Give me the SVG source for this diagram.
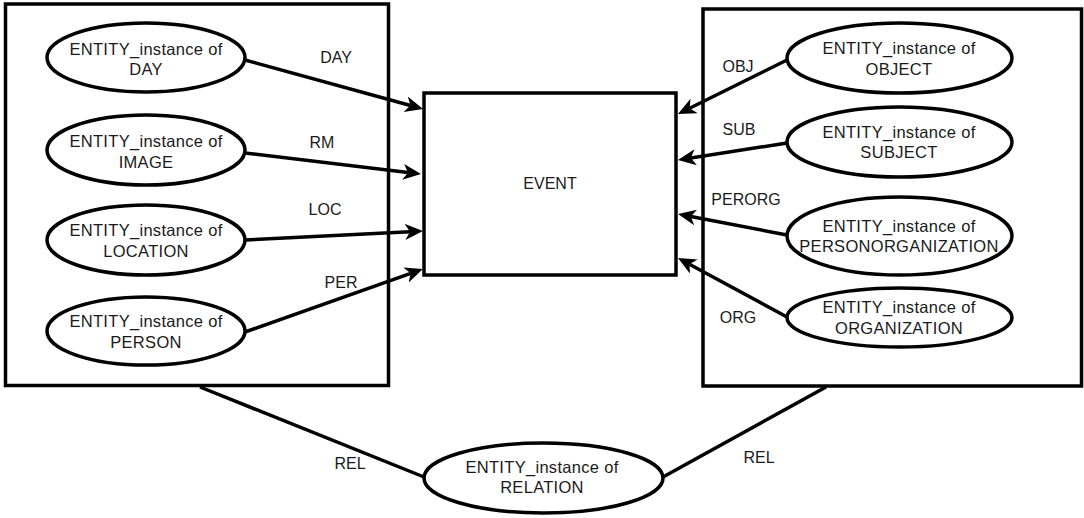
<svg xmlns="http://www.w3.org/2000/svg" width="1084" height="518" viewBox="0 0 1084 518">
  <style>
    .box { fill: none; stroke: #000; stroke-width: 3.5; }
    .event { fill: #fff; stroke: #000; stroke-width: 3.5; }
    .ent { fill: #fff; stroke: #000; stroke-width: 3.5; }
    .edge { fill: none; stroke: #000; stroke-width: 3.5; }
    .arrow { marker-end: url(#head); }
    text { font-family: "Liberation Sans", Arial, sans-serif; fill: #1a1a1a; text-anchor: middle; }
    .nt { font-size: 16.5px; letter-spacing: 0.3px; }
    .lbl { font-size: 16px; }
  </style>
  <defs>
    <marker id="head" markerUnits="userSpaceOnUse" markerWidth="20" markerHeight="18" refX="5" refY="8" orient="auto">
      <path d="M0,0 L18,8 L0,16 L5,8 Z" fill="#000"/>
    </marker>
  </defs>

  <rect width="1084" height="518" fill="#fff"/>

  <!-- container boxes -->
  <g id="left-group">
    <rect class="box" x="5.5" y="4" width="383" height="381.5"/>
  </g>
  <g id="right-group">
    <rect class="box" x="703" y="9" width="378.5" height="377"/>
  </g>

  <!-- connectors -->
  <g id="connectors">
    <line class="edge arrow" x1="245" y1="60" x2="410.5" y2="105.5"/>
    <line class="edge arrow" x1="245" y1="153" x2="408.1" y2="172.5"/>
    <line class="edge arrow" x1="245" y1="240" x2="410" y2="231.7"/>
    <line class="edge arrow" x1="245" y1="332" x2="410.7" y2="273.3"/>
    <line class="edge arrow" x1="787" y1="60" x2="689.6" y2="108.2"/>
    <line class="edge arrow" x1="787" y1="143" x2="690.8" y2="158"/>
    <line class="edge arrow" x1="787" y1="235" x2="690.8" y2="216.5"/>
    <line class="edge arrow" x1="787" y1="317" x2="689.4" y2="264.2"/>
    <line class="edge" x1="200" y1="387" x2="424" y2="477"/>
    <line class="edge" x1="826" y1="387" x2="663" y2="477"/>

    <text class="lbl" x="336" y="63">DAY</text>
    <text class="lbl" x="322" y="148">RM</text>
    <text class="lbl" x="325" y="215">LOC</text>
    <text class="lbl" x="341" y="288">PER</text>
    <text class="lbl" x="738" y="72">OBJ</text>
    <text class="lbl" x="739" y="135">SUB</text>
    <text class="lbl" x="746" y="205">PERORG</text>
    <text class="lbl" x="738" y="323">ORG</text>
    <text class="lbl" x="350" y="469">REL</text>
    <text class="lbl" x="759" y="463">REL</text>
  </g>

  <!-- central event -->
  <g id="event">
    <rect class="event" x="424" y="93" width="252" height="182"/>
    <text class="lbl" x="550" y="189">EVENT</text>
  </g>

  <!-- entity instances, left side -->
  <g id="day">
    <ellipse class="ent" cx="146" cy="57.5" rx="99" ry="34.5"/>
    <text class="nt" x="146" y="54.5">ENTITY_instance of</text>
    <text class="nt" x="146" y="75">DAY</text>
  </g>
  <g id="image">
    <ellipse class="ent" cx="146" cy="150" rx="99" ry="35"/>
    <text class="nt" x="146" y="147">ENTITY_instance of</text>
    <text class="nt" x="146" y="168">IMAGE</text>
  </g>
  <g id="location">
    <ellipse class="ent" cx="146" cy="240" rx="99" ry="35"/>
    <text class="nt" x="146" y="235.5">ENTITY_instance of</text>
    <text class="nt" x="146" y="257">LOCATION</text>
  </g>
  <g id="person">
    <ellipse class="ent" cx="146" cy="331" rx="99" ry="34"/>
    <text class="nt" x="146" y="327">ENTITY_instance of</text>
    <text class="nt" x="146" y="347.5">PERSON</text>
  </g>

  <!-- entity instances, right side -->
  <g id="object">
    <ellipse class="ent" cx="899.5" cy="58" rx="112.5" ry="35"/>
    <text class="nt" x="899" y="53.5">ENTITY_instance of</text>
    <text class="nt" x="899" y="75">OBJECT</text>
  </g>
  <g id="subject">
    <ellipse class="ent" cx="899.5" cy="142" rx="112.5" ry="35"/>
    <text class="nt" x="899" y="137.5">ENTITY_instance of</text>
    <text class="nt" x="899" y="158">SUBJECT</text>
  </g>
  <g id="personorganization">
    <ellipse class="ent" cx="899.5" cy="236" rx="112.5" ry="39"/>
    <text class="nt" x="899" y="231.5">ENTITY_instance of</text>
    <text class="nt" x="899" y="252">PERSONORGANIZATION</text>
  </g>
  <g id="organization">
    <ellipse class="ent" cx="899.5" cy="317.5" rx="112.5" ry="29.5"/>
    <text class="nt" x="899" y="313">ENTITY_instance of</text>
    <text class="nt" x="899" y="333.5">ORGANIZATION</text>
  </g>

  <!-- relation -->
  <g id="relation">
    <ellipse class="ent" cx="543.5" cy="478" rx="119.5" ry="35"/>
    <text class="nt" x="542" y="473">ENTITY_instance of</text>
    <text class="nt" x="542" y="493">RELATION</text>
  </g>
</svg>
